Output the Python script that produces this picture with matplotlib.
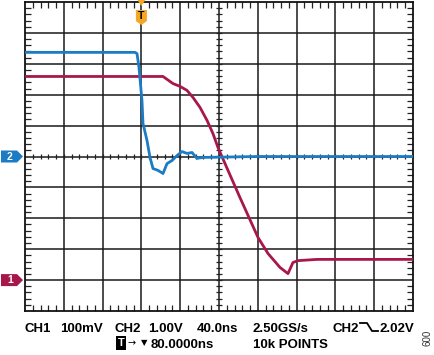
import matplotlib
matplotlib.use("Agg")
import matplotlib.pyplot as plt
from matplotlib.patches import Polygon
from matplotlib.ticker import MultipleLocator
import numpy as np

# screen divisions: x 0..10 (40ns/div), y -5..5 (center = 0)
ch2_x = [0, 2.835, 2.887, 2.938, 3.015, 3.041, 3.144, 3.222, 3.299, 3.428, 3.557,
         3.660, 3.789, 3.918, 4.046, 4.175, 4.304, 4.433, 4.588, 6.0, 8.0, 10]
ch2_y = [3.37, 3.37, 3.33, 2.88, 1.81, 1.07, 0.52, -0.03, -0.39, -0.45, -0.55,
         -0.23, -0.13, 0.03, 0.16, 0.10, 0.13, -0.06, -0.03, 0.0, 0.0, 0.0]

ch1_x = [0, 3.557, 3.814, 3.995, 4.175, 4.330, 4.510, 4.691, 4.845, 4.974, 5.232,
         5.541, 6.005, 6.263, 6.572, 6.778, 6.907, 7.036, 7.526, 10]
ch1_y = [2.59, 2.59, 2.36, 2.27, 2.14, 1.91, 1.59, 1.17, 0.74, 0.29, -0.45,
         -1.33, -2.62, -3.14, -3.59, -3.79, -3.43, -3.37, -3.33, -3.33]

ch1_ground = -4.0
ch2_ground = 0.0
trig_pos = 3.0

blue = "#1b7cc4"
red = "#a8174b"
orange = "#f5a623"

W, H = 435, 355
fig = plt.figure(figsize=(W / 100, H / 100), dpi=100)
ax = fig.add_axes([25 / W, (H - 311) / H, 388 / W, 309 / H])
ax.set_xlim(0, 10)
ax.set_ylim(-5, 5)

for v in range(1, 10):
    ax.axvline(v, color="#1a1a1a", lw=1.1, zorder=1)
for v in range(-4, 5):
    ax.axhline(v, color="#1a1a1a", lw=1.1, zorder=1)

# little ticks on the center lines
sub_x = np.arange(0.2, 10, 0.2)
ax.vlines(sub_x, -0.09, 0.09, color="#222222", lw=0.9, zorder=1)
sub_y = np.arange(-4.8, 5, 0.2)
ax.hlines(sub_y, 4.92, 5.08, color="#222222", lw=0.9, zorder=1)

ax.xaxis.set_major_locator(MultipleLocator(1))
ax.yaxis.set_major_locator(MultipleLocator(1))
ax.xaxis.set_minor_locator(MultipleLocator(0.2))
ax.yaxis.set_minor_locator(MultipleLocator(0.2))
ax.tick_params(which="both", direction="in", top=True, right=True,
               labelbottom=False, labelleft=False, width=0.9, color="#222222")
ax.tick_params(which="minor", length=4)
ax.tick_params(which="major", length=0)
for s in ax.spines.values():
    s.set_linewidth(1.3)
    s.set_color("#111111")

ax.plot(ch1_x, ch1_y, color=red, lw=2.0, zorder=3)
ax.plot(ch2_x, ch2_y, color=blue, lw=2.0, zorder=4)

# channel ground markers
dx = 1 / 38.8
dy = 1 / 30.9
for lvl, col, lab in [(ch2_ground, blue, "2"), (ch1_ground, red, "1")]:
    pts = [(-24 * dx, lvl + 6 * dy), (-8 * dx, lvl + 6 * dy), (-2 * dx, lvl),
           (-8 * dx, lvl - 6 * dy), (-24 * dx, lvl - 6 * dy)]
    ax.add_patch(Polygon(pts, closed=True, fc=col, ec="none", clip_on=False, zorder=5))
    ax.text(-15 * dx, lvl, lab, color="white", fontsize=7.5, fontweight="bold",
            family="Liberation Sans", ha="center", va="center", clip_on=False, zorder=6)

# trigger marker
tp = [(trig_pos - 4 * dx, 5 + 2 * dy), (trig_pos + 4 * dx, 5 + 2 * dy), (trig_pos, 5 - 4 * dy)]
ax.add_patch(Polygon(tp, closed=True, fc=orange, ec="none", clip_on=False, zorder=5))
tb = [(trig_pos - 5.5 * dx, 5 - 8 * dy), (trig_pos + 5.5 * dx, 5 - 8 * dy),
      (trig_pos + 5.5 * dx, 5 - 19 * dy), (trig_pos, 5 - 23 * dy), (trig_pos - 5.5 * dx, 5 - 19 * dy)]
ax.add_patch(Polygon(tb, closed=True, fc=orange, ec="none", zorder=5))
ax.text(trig_pos, 5 - 14 * dy, "T", color="black", fontsize=7.5, fontweight="bold",
        family="Liberation Sans", ha="center", va="center", zorder=6)


def ftxt(x, y, s, **kw):
    fig.text(x / W, 1 - y / H, s, fontsize=9.5, fontweight="bold",
             family=["Liberation Sans", "DejaVu Sans"], va="baseline", **kw)


ftxt(25, 332, "CH1")
ftxt(60, 332, "100mV")
ftxt(115, 332, "CH2")
ftxt(148, 332, "1.00V")
ftxt(197, 332, "40.0ns")
ftxt(253, 332, "2.50GS/s")
ftxt(333, 332, "CH2")
ftxt(380, 332, "2.02V")
# falling edge symbol
fig.add_artist(plt.Line2D([360 / W, 367 / W, 372 / W, 378 / W],
                          [1 - 323 / H, 1 - 323 / H, 1 - 331 / H, 1 - 331 / H],
                          color="black", lw=1.3))

fig.text(121 / W, 1 - 343 / H, "T", fontsize=8, fontweight="bold", color="white",
         family="Liberation Sans", ha="center", va="center",
         bbox=dict(boxstyle="square,pad=0.15", fc="black", ec="none"))
fig.text(128 / W, 1 - 343 / H, "\u2192", fontsize=7, family="DejaVu Sans", va="center")
fig.text(141 / W, 1 - 343 / H, "\u25bc", fontsize=6, family="DejaVu Sans", va="center")
ftxt(151, 348, "80.0000ns")
ftxt(253, 348, "10k POINTS")

fig.text(428 / W, 1 - 338 / H, "600", fontsize=7, family="Liberation Sans",
         rotation=90, ha="center", va="center", color="#333333")

fig.savefig("out.png", dpi=100)
